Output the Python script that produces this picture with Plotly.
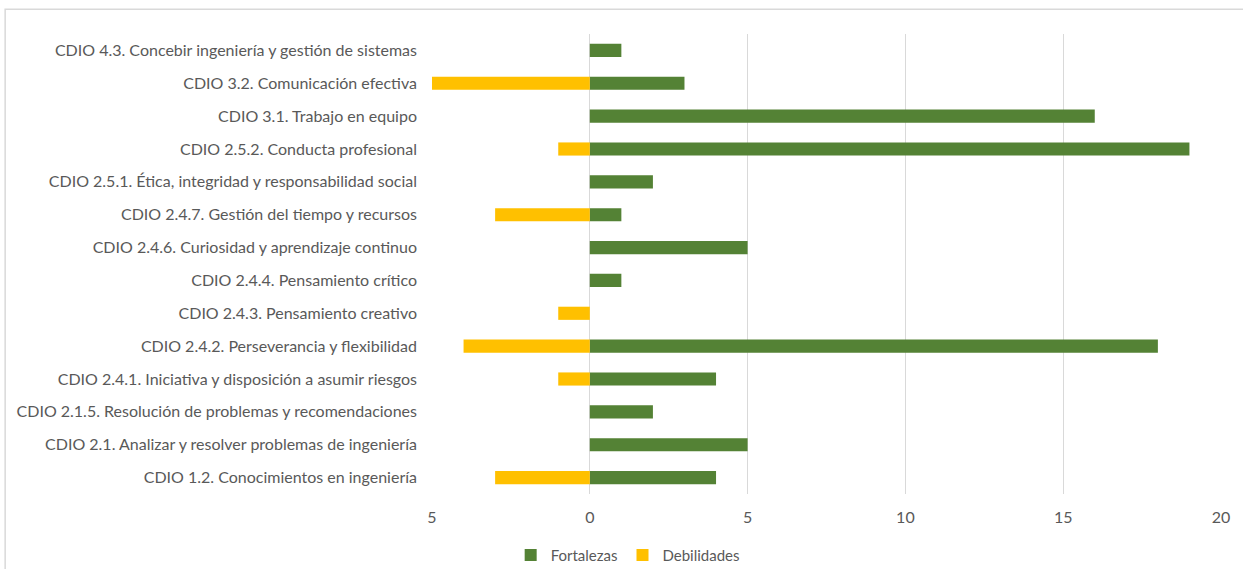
import plotly.graph_objects as go

categories = [
    "CDIO 1.2. Conocimientos en ingeniería",
    "CDIO 2.1. Analizar y resolver problemas de ingeniería",
    "CDIO 2.1.5. Resolución de problemas y recomendaciones",
    "CDIO 2.4.1. Iniciativa y disposición a asumir riesgos",
    "CDIO 2.4.2. Perseverancia y flexibilidad",
    "CDIO 2.4.3. Pensamiento creativo",
    "CDIO 2.4.4. Pensamiento crítico",
    "CDIO 2.4.6. Curiosidad y aprendizaje continuo",
    "CDIO 2.4.7. Gestión del tiempo y recursos",
    "CDIO 2.5.1. Ética, integridad y responsabilidad social",
    "CDIO 2.5.2. Conducta profesional",
    "CDIO 3.1. Trabajo en equipo",
    "CDIO 3.2. Comunicación efectiva",
    "CDIO 4.3. Concebir ingeniería y gestión de sistemas",
]
fortalezas = [4, 5, 2, 4, 18, 0, 1, 5, 1, 2, 19, 16, 3, 1]
debilidades = [-3, 0, 0, -1, -4, -1, 0, 0, -3, 0, -1, 0, -5, 0]
tick_vals = [-5, 0, 5, 10, 15, 20]
tick_text = ["5", "0", "5", "10", "15", "20"]

font = "Lato, Open Sans, sans-serif"
txt = "#595959"

fig = go.Figure()
fig.add_trace(go.Bar(y=categories, x=fortalezas, orientation="h", name="Fortalezas",
                     marker=dict(color="#548235", line=dict(width=0))))
fig.add_trace(go.Bar(y=categories, x=debilidades, orientation="h", name="Debilidades",
                     marker=dict(color="#FFC000", line=dict(width=0))))

fig.update_layout(
    width=1243, height=569,
    barmode="relative", bargap=0.6,
    paper_bgcolor="white", plot_bgcolor="white",
    margin=dict(l=432, r=22, t=34, b=75, autoexpand=False),
    font=dict(family=font, size=16, color=txt),
    xaxis=dict(range=[-5, 20], tickvals=tick_vals, ticktext=tick_text,
               showgrid=True, gridcolor="#d9d9d9", gridwidth=1,
               zeroline=False, showline=False, ticks="", ticklabelstandoff=12,
               fixedrange=True),
    yaxis=dict(showgrid=False, zeroline=False, showline=False, ticks="",
               ticklabelstandoff=14, tickfont=dict(size=16)),
    legend=dict(orientation="h", x=0.248, xanchor="center", y=-0.133, yanchor="middle",
                font=dict(size=15), traceorder="normal", itemwidth=30),
    showlegend=True,
    shapes=[dict(type="rect", xref="paper", yref="paper", x0=-0.541, x1=1.1,
                 y0=-0.2, y1=1.054, line=dict(color="#d9d9d9", width=1.5),
                 fillcolor="rgba(0,0,0,0)", layer="below")],
)
fig.write_html("out.html", config={"displayModeBar": False},
               post_script="document.body.style.margin='0';")
